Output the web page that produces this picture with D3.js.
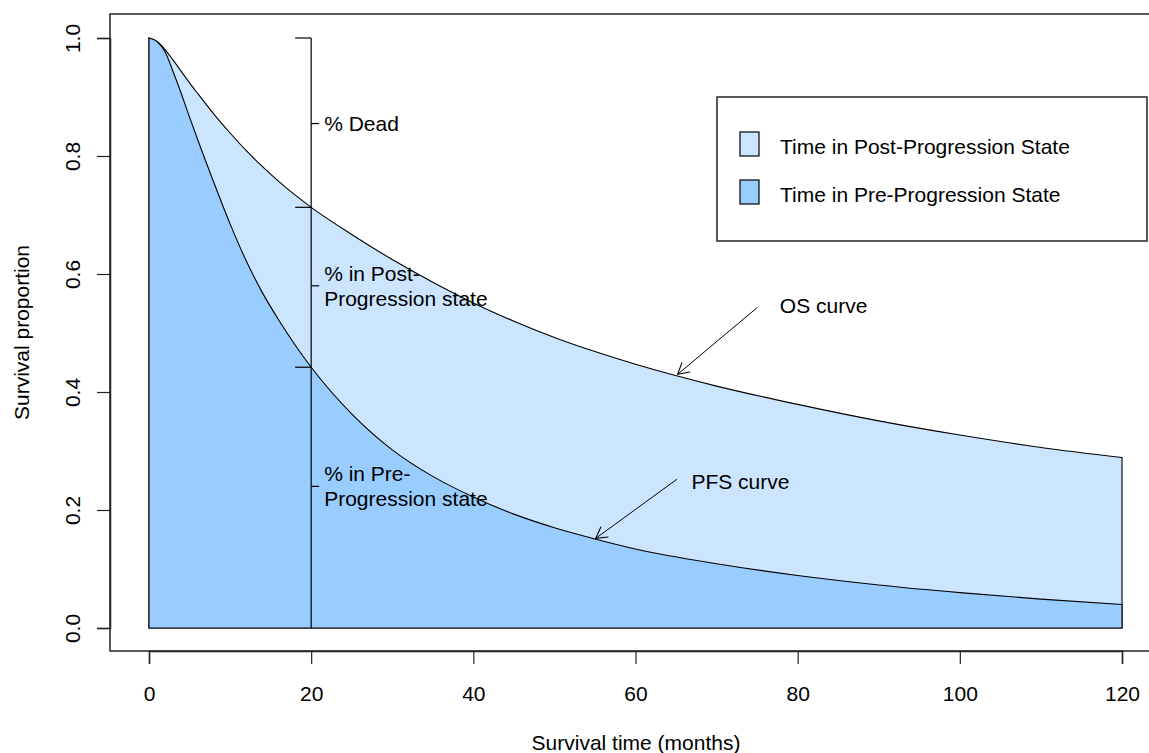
<!DOCTYPE html>
<html>
<head>
<meta charset="utf-8">
<script src="https://cdn.jsdelivr.net/npm/d3@7"></script>
<style>
  body { margin: 0; background: #fff; }
  text { font-family: "Liberation Sans", Arial, sans-serif; fill: #000; }
</style>
</head>
<body>
<div id="chart"></div>
<script>
// Survival data (months, proportion)
var months = [0, 1, 2, 3, 4, 5, 6, 8, 10, 12, 14, 16, 18, 20, 25, 30, 35, 40, 45, 50, 55, 60, 70, 80, 90, 100, 110, 120];
var osValues = [1.0, 0.994, 0.980, 0.962, 0.943, 0.924, 0.906, 0.871, 0.839, 0.809, 0.782, 0.757, 0.734, 0.713, 0.667, 0.6245, 0.586, 0.551, 0.520, 0.4925, 0.4685, 0.447, 0.41, 0.379, 0.351, 0.327, 0.306, 0.289];
var pfsValues = [1.0, 0.994, 0.976, 0.942, 0.905, 0.866, 0.828, 0.755, 0.685, 0.622, 0.568, 0.522, 0.48, 0.442, 0.363, 0.302, 0.257, 0.222, 0.193, 0.170, 0.151, 0.134, 0.109, 0.089, 0.073, 0.060, 0.049, 0.040];

var xTicks = [0, 20, 40, 60, 80, 100, 120];
var yTicks = [0, 0.2, 0.4, 0.6, 0.8, 1.0];

var legendLabels = ["Time in Post-Progression State", "Time in Pre-Progression State"];
var legendColors = ["#cce5ff", "#99ccff"];

// bracket at month 20: end ticks and label ticks
var bracketMonth = 20;
var bracketEnds = [1.0, 0.713, 0.442];
var bracketLabels = [
    { v: 0.855, lines: ["% Dead"] },
    { v: 0.58, lines: ["% in Post-", "Progression state"] },
    { v: 0.24, lines: ["% in Pre-", "Progression state"] }
];

// curve labels with arrows
var curveNotes = [
    { label: "OS curve", tx: 77.8, ty: 0.547, x0: 75, y0: 0.543, x1: 65.2, y1: 0.43 },
    { label: "PFS curve", tx: 66.9, ty: 0.248, x0: 65.1, y0: 0.252, x1: 55.1, y1: 0.152 }
];

var W = 1149, H = 753;
var box = { left: 110, top: 14, right: 1162, bottom: 651 };

var svg = d3.select("#chart").append("svg")
    .attr("width", W)
    .attr("height", H);

var x = d3.scaleLinear().domain([0, 120]).range([149, 1122]);
var y = d3.scaleLinear().domain([0, 1]).range([628, 38]);

var os = months.map((m, i) => [m, osValues[i]]);
var pfs = months.map((m, i) => [m, pfsValues[i]]);

// closed polygons down to zero, as in polygon() in R
var curveLine = d3.line()
    .x(d => x(d[0]))
    .y(d => y(d[1]))
    .curve(d3.curveMonotoneX);

function polyPath(pts) {
    var p = curveLine(pts);
    var last = pts[pts.length - 1][0];
    return p + "L" + x(last) + "," + y(0) + "L" + x(0) + "," + y(0) + "Z";
}

svg.append("path")
    .attr("d", polyPath(os))
    .attr("fill", legendColors[0])
    .attr("stroke", "#000")
    .attr("stroke-width", 1.1);

svg.append("path")
    .attr("d", polyPath(pfs))
    .attr("fill", legendColors[1])
    .attr("stroke", "#000")
    .attr("stroke-width", 1.1);

// vertical bracket at month 20
svg.append("line")
    .attr("x1", x(bracketMonth)).attr("x2", x(bracketMonth))
    .attr("y1", y(0)).attr("y2", y(1))
    .attr("stroke", "#000").attr("stroke-width", 1.2);

svg.selectAll(".bend")
    .data(bracketEnds)
    .enter().append("line")
    .attr("x1", x(bracketMonth) - 16).attr("x2", x(bracketMonth))
    .attr("y1", d => y(d)).attr("y2", d => y(d))
    .attr("stroke", "#000").attr("stroke-width", 1.2);

bracketLabels.forEach(function(b) {
    svg.append("line")
        .attr("x1", x(bracketMonth)).attr("x2", x(bracketMonth) + 8)
        .attr("y1", y(b.v)).attr("y2", y(b.v))
        .attr("stroke", "#000").attr("stroke-width", 1.2);
    var n = b.lines.length;
    b.lines.forEach(function(line, i) {
        svg.append("text")
            .attr("x", x(bracketMonth) + 13)
            .attr("y", y(b.v) + (i - (n - 1) / 2) * 25 + 7.5)
            .attr("font-size", "21px")
            .text(line);
    });
});

// arrows pointing at the curves
svg.append("defs").append("marker")
    .attr("id", "head")
    .attr("markerUnits", "userSpaceOnUse")
    .attr("viewBox", "-14 -8 16 16")
    .attr("markerWidth", 16).attr("markerHeight", 16)
    .attr("refX", 0).attr("refY", 0)
    .attr("orient", "auto")
    .append("path")
    .attr("d", "M-11,-6.3L0,0L-11,6.3")
    .attr("fill", "none")
    .attr("stroke", "#000")
    .attr("stroke-width", 1.1);

curveNotes.forEach(function(c) {
    svg.append("line")
        .attr("x1", x(c.x0)).attr("y1", y(c.y0))
        .attr("x2", x(c.x1)).attr("y2", y(c.y1))
        .attr("stroke", "#000").attr("stroke-width", 1)
        .attr("marker-end", "url(#head)");
    svg.append("text")
        .attr("x", x(c.tx))
        .attr("y", y(c.ty) + 7.5)
        .attr("font-size", "21px")
        .text(c.label);
});

// plot box
svg.append("rect")
    .attr("x", box.left).attr("y", box.top)
    .attr("width", box.right - box.left)
    .attr("height", box.bottom - box.top)
    .attr("fill", "none")
    .attr("stroke", "#222")
    .attr("stroke-width", 1.5);

// x axis
var xAxis = d3.axisBottom(x).tickValues(xTicks).tickSize(13).tickPadding(22).tickFormat(d3.format("d"));
var gx = svg.append("g")
    .attr("transform", "translate(0," + box.bottom + ")")
    .call(xAxis);
gx.select(".domain").attr("stroke", "#222").attr("stroke-width", 1.5);
gx.selectAll(".tick line").attr("stroke", "#222").attr("stroke-width", 1.2);
gx.selectAll(".tick text")
    .attr("font-family", "Liberation Sans, Arial, sans-serif")
    .attr("font-size", "21px")
    .attr("fill", "#000");

// y axis with rotated labels
var yAxis = d3.axisLeft(y).tickValues(yTicks).tickSize(13).tickFormat(d3.format(".1f"));
var gy = svg.append("g")
    .attr("transform", "translate(" + box.left + ",0)")
    .call(yAxis);
gy.select(".domain").attr("stroke", "#222").attr("stroke-width", 1.5);
gy.selectAll(".tick line").attr("stroke", "#222").attr("stroke-width", 1.2);
gy.selectAll(".tick text")
    .attr("font-family", "Liberation Sans, Arial, sans-serif")
    .attr("font-size", "21px")
    .attr("fill", "#000")
    .attr("text-anchor", "middle")
    .attr("dy", null)
    .attr("x", 0)
    .attr("y", 0)
    .attr("transform", "translate(-30,0) rotate(-90)");

// axis titles
svg.append("text")
    .attr("x", (box.left + box.right) / 2)
    .attr("y", 750)
    .attr("text-anchor", "middle")
    .attr("font-size", "21px")
    .text("Survival time (months)");

svg.append("text")
    .attr("transform", "translate(29," + ((box.top + box.bottom) / 2) + ") rotate(-90)")
    .attr("text-anchor", "middle")
    .attr("font-size", "21px")
    .text("Survival proportion");

// legend
var legend = svg.append("g").attr("transform", "translate(717,97)");
legend.append("rect")
    .attr("width", 430).attr("height", 144)
    .attr("fill", "#fff")
    .attr("stroke", "#222").attr("stroke-width", 1.5);

legendLabels.forEach(function(lab, i) {
    legend.append("rect")
        .attr("x", 23).attr("y", 35 + i * 48)
        .attr("width", 19).attr("height", 24)
        .attr("fill", legendColors[i])
        .attr("stroke", "#000").attr("stroke-width", 1.2);
    legend.append("text")
        .attr("x", 63).attr("y", 57 + i * 48)
        .attr("font-size", "21px")
        .text(lab);
});
</script>
</body>
</html>
